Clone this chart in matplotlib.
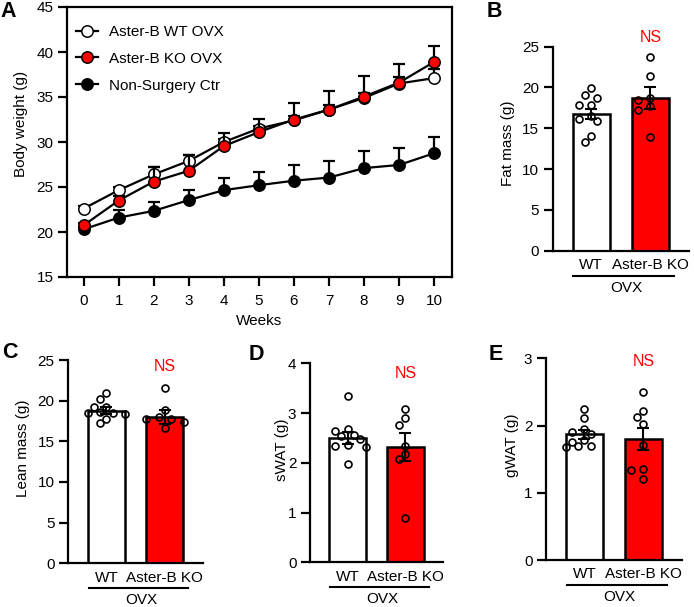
import numpy as np
import matplotlib
matplotlib.use("Agg")
import matplotlib.pyplot as plt
from matplotlib import transforms

plt.rcParams['font.family'] = ['Liberation Sans', 'DejaVu Sans']
plt.rcParams['font.size'] = 11

# ---------------- data ----------------
weeks = list(range(11))
series_labels = ['Aster-B WT OVX', 'Aster-B KO OVX', 'Non-Surgery Ctr']
wt_ovx_mean = [22.6, 24.65, 26.4, 27.9, 30.0, 31.5, 32.4, 33.6, 34.9, 36.5, 37.1]
wt_ovx_sem = [0.3, 0.4, 0.8, 0.65, 0.3, 0.3, 0.5, 0.5, 0.6, 0.7, 1.0]
ko_ovx_mean = [20.75, 23.5, 25.6, 26.8, 29.55, 31.1, 32.5, 33.6, 35.05, 36.6, 38.9]
ko_ovx_sem = [0.3, 0.5, 1.6, 1.75, 1.5, 1.5, 1.8, 2.1, 2.25, 2.1, 1.8]
ctr_mean = [20.3, 21.6, 22.35, 23.55, 24.65, 25.2, 25.7, 26.05, 27.1, 27.45, 28.75]
ctr_sem = [0.3, 0.85, 1.0, 1.1, 1.4, 1.5, 1.8, 1.85, 1.9, 1.85, 1.8]

groups = ['WT', 'Aster-B KO']
group_title = 'OVX'
sig_text = 'NS'

fat_mean = [16.8, 18.7]
fat_sem = [0.6, 1.3]
fat_wt = [19.9, 19.1, 18.75, 17.85, 17.85, 16.5, 16.2, 15.9, 14.0, 13.3]
fat_ko = [23.7, 21.4, 18.7, 18.5, 17.7, 17.2, 13.9]

lean_mean = [18.77, 18.0]
lean_sem = [0.43, 0.85]
lean_wt = [20.9, 20.2, 19.26, 19.26, 18.6, 18.5, 18.5, 18.4, 17.8, 17.2]
lean_ko = [21.6, 18.9, 18.0, 17.8, 17.7, 17.4, 16.6]

swat_mean = [2.49, 2.31]
swat_sem = [0.12, 0.28]
swat_wt = [3.34, 2.68, 2.63, 2.56, 2.53, 2.47, 2.36, 2.34, 2.32, 1.98]
swat_ko = [3.09, 2.91, 2.76, 2.34, 2.18, 2.08, 0.90]

gwat_mean = [1.87, 1.80]
gwat_sem = [0.07, 0.17]
gwat_wt = [2.25, 2.11, 1.95, 1.91, 1.88, 1.79, 1.76, 1.70, 1.69, 1.68]
gwat_ko = [2.50, 2.21, 2.12, 2.02, 1.71, 1.35, 1.34, 1.21]

# ---------------- figure ----------------
W, H = 694, 607
fig = plt.figure(figsize=(W / 100, H / 100), dpi=100)
RED = '#ff0000'


def px_axes(l, r, t, b):
    return fig.add_axes([l / W, 1 - b / H, (r - l) / W, (b - t) / H])


# ---------- Panel A ----------
axA = px_axes(67, 452, 7, 277)
axA.set_xlim(-0.476, 10.51)
axA.set_ylim(15, 45)
for s in axA.spines.values():
    s.set_linewidth(1.6)

styles = [
    dict(mfc='white', mec='black', zorder=4),
    dict(mfc=RED, mec='black', zorder=5),
    dict(mfc='black', mec='black', zorder=3),
]
means = [wt_ovx_mean, ko_ovx_mean, ctr_mean]
sems = [wt_ovx_sem, ko_ovx_sem, ctr_sem]
handles = []
for m, se, st, lab in zip(means, sems, styles, series_labels):
    eb = axA.errorbar(weeks, m, yerr=[np.zeros(len(se)), se], fmt='none',
                      ecolor='black', elinewidth=1.6, capsize=4.3,
                      capthick=1.6, zorder=st['zorder'] - 0.5)
    eb[1][0].set_visible(False)
    ln, = axA.plot(weeks, m, '-o', color='black', lw=1.6, ms=8.2,
                   mew=1.1, mfc=st['mfc'], mec=st['mec'],
                   zorder=st['zorder'], label=lab)
    handles.append(ln)

axA.set_xticks(weeks)
axA.set_yticks(range(15, 46, 5))
axA.tick_params(axis='y', length=6.8, width=1.6, pad=3, labelsize=11)
axA.tick_params(axis='x', length=6.5, width=1.6, pad=6, labelsize=11)
axA.set_xlabel('Weeks', fontsize=11, labelpad=4)
axA.set_ylabel('Body weight (g)', fontsize=11, va='center')
axA.yaxis.set_label_coords(-46.3 / 385, 1 - (124 - 7) / 270)
axA.legend(handles=handles, loc='upper left',
           bbox_to_anchor=(9 / 385, 1 - (25 - 7) / 270),
           frameon=False, fontsize=11, borderpad=0, borderaxespad=0,
           handlelength=1.45, handletextpad=0.7, labelspacing=0.84)


# ---------- bar panels ----------
def swarm_x(ax, xc, vals, step, thresh):
    tr = ax.transData
    x0 = tr.transform((xc, 0))[0]
    placed = []
    out = []
    cands = [0]
    for i in range(1, 8):
        cands += [-i, i]
    for v in vals:
        yp = tr.transform((xc, v))[1]
        for c in cands:
            xp = x0 + c * step
            if all((xp - a) ** 2 + (yp - b) ** 2 >= thresh ** 2
                   for a, b in placed):
                break
        placed.append((xp, yp))
        out.append(tr.inverted().transform((xp, yp))[0])
    return out


def bar_panel(box, ylim, yticks, ylabel, lab_d, lab_y, mean, sem, pts_wt,
              pts_ko, ns_y):
    ax = px_axes(*box)
    w_px = box[1] - box[0]
    ax.set_xlim(-0.65, 1.65)
    ax.set_ylim(*ylim)
    for side in ('top', 'right'):
        ax.spines[side].set_visible(False)
    for side in ('left', 'bottom'):
        ax.spines[side].set_linewidth(1.6)
    xs = [0, 1]
    ax.bar(xs, mean, width=0.63, color=['white', RED], edgecolor='black',
           linewidth=1.8, zorder=2)
    ax.errorbar(xs, mean, yerr=sem, fmt='none', ecolor='black',
                elinewidth=1.5, capsize=4, capthick=1.5, zorder=4)
    for xc, pts in zip(xs, [pts_wt, pts_ko]):
        px = swarm_x(ax, xc, pts, 6.2, 7.6)
        ax.plot(px, pts, 'o', ms=5.0, mfc='none', mec='black', mew=1.2,
                zorder=3, clip_on=False)
    ax.set_xticks([])
    ax.set_yticks(yticks)
    ax.tick_params(axis='y', length=6.8, width=1.6, pad=3, labelsize=11)
    ax.set_ylabel(ylabel, fontsize=11, va='center')
    ax.yaxis.set_label_coords(-lab_d / w_px, lab_y)
    ax.text(1.0, ns_y, sig_text, color=RED, fontsize=11.5, ha='center',
            va='center', clip_on=False)
    trans = transforms.blended_transform_factory(ax.transData, ax.transAxes)
    for xc, g in zip(xs, groups):
        ax.annotate(g, xy=(xc, 0), xycoords=trans, xytext=(0, -10.3),
                    textcoords='offset points', ha='center', va='center',
                    fontsize=11)
    off = transforms.offset_copy(trans, fig=fig, y=-18, units='points')
    ax.plot([-0.3, 1.4], [0, 0], color='black', lw=1.5, transform=off,
            clip_on=False)
    ax.annotate(group_title, xy=(0.6, 0), xycoords=trans, xytext=(0, -26.5),
                textcoords='offset points', ha='center', va='center',
                fontsize=11)
    return ax


bar_panel((552.7, 689, 46.7, 250.7), (0, 25), range(0, 26, 5),
          'Fat mass (g)', 44.7, 0.526, fat_mean, fat_sem, fat_wt, fat_ko, 26.1)
bar_panel((68.3, 203, 360, 563.3), (0, 25), range(0, 26, 5),
          'Lean mass (g)', 45, 0.566, lean_mean, lean_sem, lean_wt, lean_ko,
          24.2)
bar_panel((310, 443, 363.3, 562.3), (0, 4), range(0, 5),
          'sWAT (g)', 28.3, 0.564, swat_mean, swat_sem, swat_wt, swat_ko, 3.8)
bar_panel((546, 681.7, 358.3, 560), (0, 3), range(0, 4),
          'gWAT (g)', 34.3, 0.57, gwat_mean, gwat_sem, gwat_wt, gwat_ko,
          2.945)

# panel letters
for letter, x, yb in [('A', 0, 17.3), ('B', 487, 16.7), ('C', 1.7, 358.3),
                      ('D', 248.3, 360), ('E', 488.3, 360)]:
    fig.text(x / W, 1 - yb / H, letter, fontsize=15.5, fontweight='bold',
             ha='left', va='baseline')

fig.savefig('out.png', dpi=100)
